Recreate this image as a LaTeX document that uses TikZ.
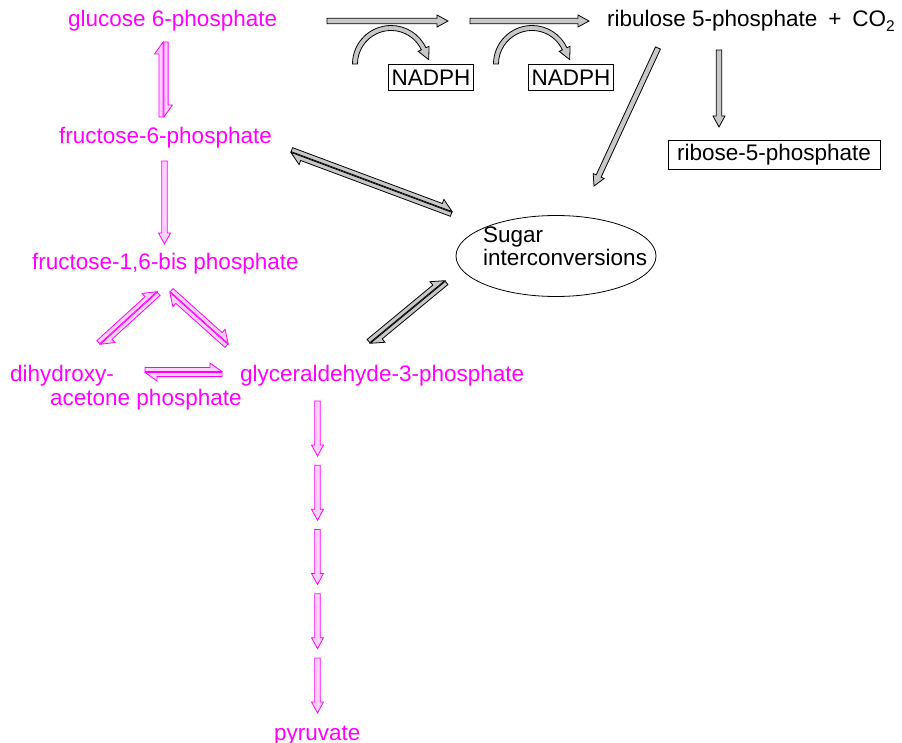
\documentclass[tikz,border=0pt]{standalone}
\usepackage{fontspec}
\setmainfont{Liberation Sans}
\usetikzlibrary{calc,shapes.geometric}
\definecolor{mag}{RGB}{255,0,255}
\definecolor{magfill}{RGB}{255,210,255}
\definecolor{grayfill}{RGB}{200,200,200}
\tikzset{
  magarrow/.style={draw=mag, fill=magfill, line width=0.8pt, line join=miter},
  grayarrow/.style={draw=black, fill=grayfill, line width=0.8pt, line join=miter},
  labeltext/.style={anchor=base west, inner sep=0pt, font=\fontsize{22.5}{27}\selectfont},
  magtext/.style={labeltext, text=mag},
  blacktext/.style={labeltext, text=black},
  boxtext/.style={draw, line width=0.8pt, text=black, font=\fontsize{22.5}{27}\selectfont},
}
\newcommand\getdir[2]{%
  \path (#1) coordinate (arS) (#2) coordinate (arE);
  \pgfpointdiff{\pgfpointanchor{arS}{center}}{\pgfpointanchor{arE}{center}}%
  \pgfgetlastxy{\arX}{\arY}%
  \pgfmathsetmacro\arAng{atan2(\arY,\arX)}%
  \pgfmathsetmacro\arLen{veclen(\arX,\arY)}%
}
% single hollow block arrow
\newcommand\singlearrow[3]{%
  \getdir{#2}{#3}%
  \begin{scope}[shift={(arS)}, rotate=\arAng, x=1pt, y=1pt]
    \draw[#1] (0,-2.7) -- ({\arLen-11},-2.7) -- ({\arLen-11},-6) -- (\arLen,0)
      -- ({\arLen-11},6) -- ({\arLen-11},2.7) -- (0,2.7) -- cycle;
  \end{scope}}
% reversible pair of hollow harpoons
\newcommand\revarrow[3]{%
  \getdir{#2}{#3}%
  \begin{scope}[shift={(arS)}, rotate=\arAng, x=1pt, y=1pt]
    \draw[#1] (0,0.4) -- (\arLen,0.4) -- ({\arLen-12},9) -- ({\arLen-12},4.6) -- (0,4.6) -- cycle;
    \draw[#1] (\arLen,-0.4) -- (0,-0.4) -- (12,-9) -- (12,-4.6) -- (\arLen,-4.6) -- cycle;
  \end{scope}}
% curved hollow arrow around a centre
\newcommand\curvedarrow[2]{%
  \begin{scope}[shift={(#2)}]
    \draw[#1] (180:38.5) arc[start angle=180, end angle=335, radius=38.5]
      -- (335:42) -- ($(335:36)+(65:12)$) -- (335:30) -- (335:33.5)
      arc[start angle=335, end angle=180, radius=33.5] -- cycle;
  \end{scope}}

\begin{document}
\begin{tikzpicture}[x=1pt, y=-1pt]
\useasboundingbox (0,0) rectangle (902,743);

% metabolites (glycolysis)
\node[magtext] (g6p) at (68,27) {glucose 6-phosphate};
\node[magtext] (f6p) at (59,144) {fructose-6-phosphate};
\node[magtext] (f16) at (32,270) {fructose-1,6-bis phosphate};
\node[magtext] (dhap) at (10,381) {dihydroxy-};
\node[magtext] (dhapb) at (50,405) {acetone phosphate};
\node[magtext] (g3p) at (240,381) {glyceraldehyde-3-phosphate};
\node[magtext] (pyr) at (274,740) {pyruvate};

% pentose phosphate side
\node[blacktext] (ru5p) at (607,27) {ribulose 5-phosphate\hspace{11pt}+\hspace{11pt}CO\raisebox{-4.5pt}{\fontsize{15.5}{15.5}\selectfont 2}};
\node[boxtext, text height=16.2pt, text depth=0pt, inner xsep=3.5pt, inner ysep=4.5pt] (nadph1) at (431,77.5) {NADPH};
\node[boxtext, text height=16.2pt, text depth=0pt, inner xsep=3.5pt, inner ysep=4.5pt] (nadph2) at (571,77.5) {NADPH};
\node[boxtext, text height=16.3pt, text depth=4.8pt, inner xsep=9pt, inner ysep=4pt] (r5p) at (774,154.5) {ribose-5-phosphate};
\node[draw, ellipse, line width=0.8pt, minimum width=200pt, minimum height=81pt, inner sep=0pt] (sugar) at (556,256) {};
\node[blacktext] (sugartext) at (483,243) {Sugar};
\node[blacktext] (sugartextb) at (483,266) {interconversions};

% gray arrows
\singlearrow{grayarrow}{$(ru5p.base west)+(-280,-6)$}{$(ru5p.base west)+(-159,-6)$}
\singlearrow{grayarrow}{$(ru5p.base west)+(-137,-6)$}{$(ru5p.base west)+(-18,-6)$}
\curvedarrow{grayarrow}{$(nadph1.center)+(-40,-13.5)$}
\curvedarrow{grayarrow}{$(nadph2.center)+(-39,-13.5)$}
\singlearrow{grayarrow}{$(sugar.center)+(102,-208)$}{$(sugar.center)+(38,-70)$}
\singlearrow{grayarrow}{$(r5p.center)+(-55,-104.5)$}{$(r5p.center)+(-55,-27.5)$}
\revarrow{grayarrow}{$(f6p.base west)+(232,8)$}{$(sugar.center)+(-104,-44)$}
\revarrow{grayarrow}{$(sugar.center)+(-111,25)$}{$(g3p.base west)+(130,-38)$}

% magenta arrows
\revarrow{magarrow}{$(g6p.base west)+(95.5,15)$}{$(f6p.base west)+(104.5,-27)$}
\singlearrow{magarrow}{$(f6p.base west)+(105.5,17)$}{$(f16.base west)+(132.5,-26)$}
\revarrow{magarrow}{$(f16.base west)+(125,22)$}{$(dhap.base west)+(90,-37)$}
\revarrow{magarrow}{$(f16.base west)+(138,22)$}{$(g3p.base west)+(-12,-37)$}
\revarrow{magarrow}{$(dhap.base west)+(135,-9)$}{$(g3p.base west)+(-18,-9)$}
\foreach \k in {0,...,4}{
  \singlearrow{magarrow}{$(g3p.base west)+(77.5,{20+64.25*\k})$}{$(g3p.base west)+(77.5,{75+64.25*\k})$}
}
\end{tikzpicture}
\end{document}
